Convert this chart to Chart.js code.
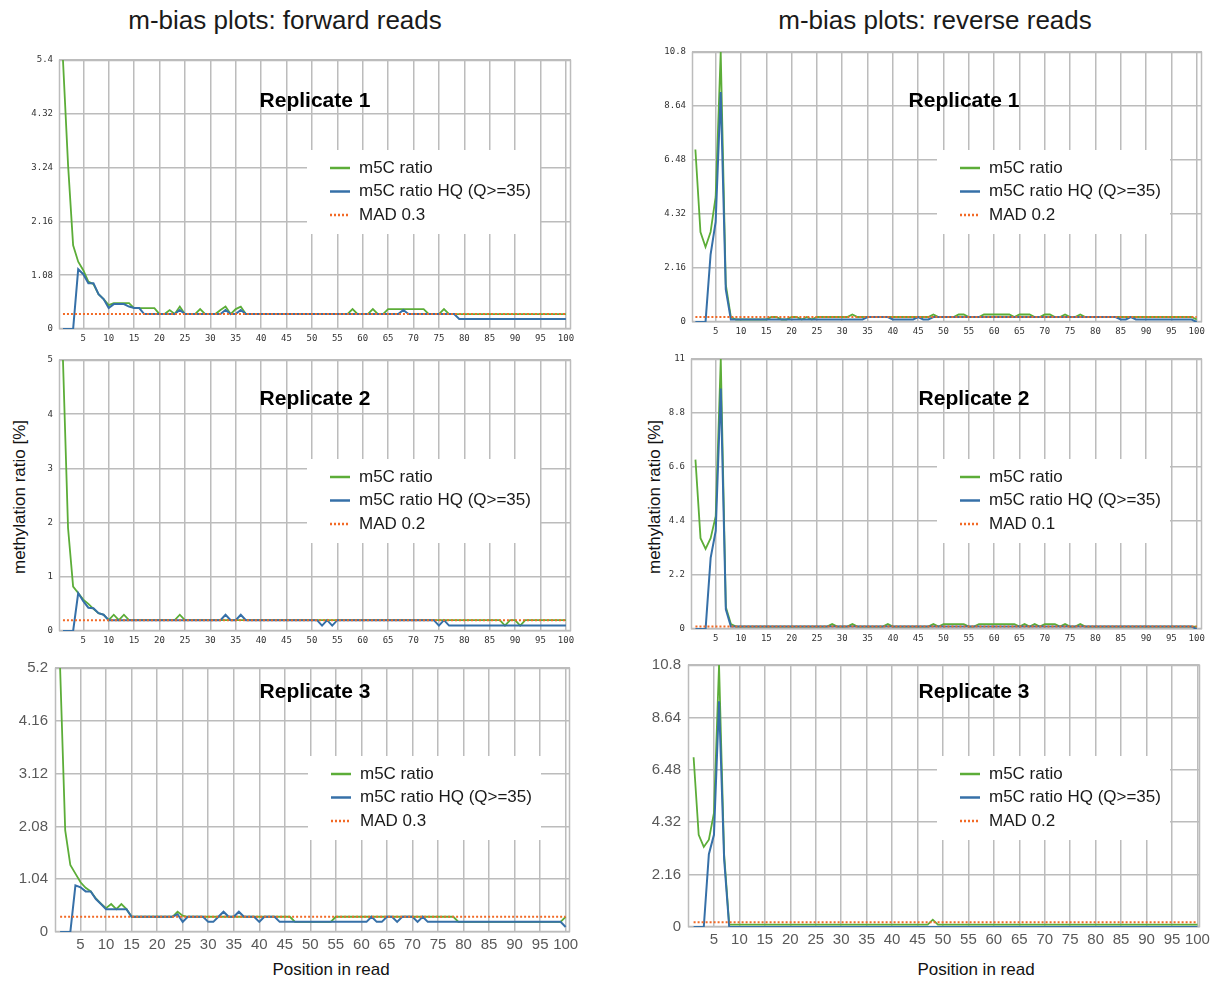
<!DOCTYPE html>
<html>
<head>
<meta charset="utf-8">
<title>m-bias plots</title>
<script src="https://cdn.jsdelivr.net/npm/chart.js@4.4.1/dist/chart.umd.min.js"></script>
<style>
  html, body { margin: 0; padding: 0; background: #fff; }
  #page { position: relative; width: 1219px; height: 985px; overflow: hidden; font-family: "Liberation Sans", Arial, sans-serif; }
  .heading { position: absolute; font-size: 26px; color: #1a1a1a; white-space: nowrap; transform: translate(-50%, -50%); }
  .axis-title { position: absolute; font-size: 17px; color: #111; white-space: nowrap; transform: translate(-50%, -50%); }
  .axis-title.vertical { transform: translate(-50%, -50%) rotate(-90deg); }
</style>
</head>
<body>
<div id="page">
  <div class="heading" style="left:285px; top:20px">m-bias plots: forward reads</div>
  <div class="heading" style="left:935px; top:20px">m-bias plots: reverse reads</div>
  <div class="axis-title vertical" style="left:20px; top:497px">methylation ratio [%]</div>
  <div class="axis-title vertical" style="left:655px; top:497px">methylation ratio [%]</div>
  <div class="axis-title" style="left:331px; top:970px">Position in read</div>
  <div class="axis-title" style="left:976px; top:970px">Position in read</div>
</div>
<script>
// methylation ratio per read position (1..100)
const fwdRep1Ratio = [
  5.4, 3.3, 1.68, 1.35, 1.18, 0.95, 0.9, 0.7, 0.6, 0.48,
  0.52, 0.52, 0.52, 0.52, 0.42, 0.42, 0.42, 0.42, 0.42, 0.3,
  0.3, 0.38, 0.3, 0.45, 0.3, 0.3, 0.3, 0.4, 0.3, 0.3,
  0.3, 0.38, 0.45, 0.3, 0.4, 0.45, 0.3, 0.3, 0.3, 0.3,
  0.3, 0.3, 0.3, 0.3, 0.3, 0.3, 0.3, 0.3, 0.3, 0.3,
  0.3, 0.3, 0.3, 0.3, 0.3, 0.3, 0.3, 0.4, 0.3, 0.3,
  0.3, 0.4, 0.3, 0.3, 0.4, 0.4, 0.4, 0.4, 0.4, 0.4,
  0.4, 0.4, 0.3, 0.3, 0.3, 0.4, 0.3, 0.3, 0.3, 0.3,
  0.3, 0.3, 0.3, 0.3, 0.3, 0.3, 0.3, 0.3, 0.3, 0.3,
  0.3, 0.3, 0.3, 0.3, 0.3, 0.3, 0.3, 0.3, 0.3, 0.3
];
const fwdRep1HQ = [
  0, 0, 0, 1.2, 1.1, 0.92, 0.92, 0.7, 0.6, 0.42,
  0.5, 0.5, 0.5, 0.45, 0.42, 0.42, 0.3, 0.3, 0.3, 0.3,
  0.3, 0.3, 0.3, 0.38, 0.3, 0.3, 0.3, 0.3, 0.3, 0.3,
  0.3, 0.3, 0.38, 0.3, 0.3, 0.38, 0.3, 0.3, 0.3, 0.3,
  0.3, 0.3, 0.3, 0.3, 0.3, 0.3, 0.3, 0.3, 0.3, 0.3,
  0.3, 0.3, 0.3, 0.3, 0.3, 0.3, 0.3, 0.3, 0.3, 0.3,
  0.3, 0.3, 0.3, 0.3, 0.3, 0.3, 0.3, 0.38, 0.3, 0.3,
  0.3, 0.3, 0.3, 0.3, 0.3, 0.3, 0.3, 0.3, 0.2, 0.2,
  0.2, 0.2, 0.2, 0.2, 0.2, 0.2, 0.2, 0.2, 0.2, 0.2,
  0.2, 0.2, 0.2, 0.2, 0.2, 0.2, 0.2, 0.2, 0.2, 0.2
];
const fwdRep2Ratio = [
  5.0, 1.9, 0.82, 0.7, 0.58, 0.5, 0.41, 0.33, 0.3, 0.2,
  0.3, 0.2, 0.3, 0.2, 0.2, 0.2, 0.2, 0.2, 0.2, 0.2,
  0.2, 0.2, 0.2, 0.3, 0.2, 0.2, 0.2, 0.2, 0.2, 0.2,
  0.2, 0.2, 0.2, 0.2, 0.2, 0.2, 0.2, 0.2, 0.2, 0.2,
  0.2, 0.2, 0.2, 0.2, 0.2, 0.2, 0.2, 0.2, 0.2, 0.2,
  0.2, 0.2, 0.2, 0.2, 0.2, 0.2, 0.2, 0.2, 0.2, 0.2,
  0.2, 0.2, 0.2, 0.2, 0.2, 0.2, 0.2, 0.2, 0.2, 0.2,
  0.2, 0.2, 0.2, 0.2, 0.2, 0.2, 0.2, 0.2, 0.2, 0.2,
  0.2, 0.2, 0.2, 0.2, 0.2, 0.2, 0.2, 0.1, 0.2, 0.2,
  0.1, 0.2, 0.2, 0.2, 0.2, 0.2, 0.2, 0.2, 0.2, 0.2
];
const fwdRep2HQ = [
  0, 0, 0, 0.7, 0.55, 0.43, 0.42, 0.33, 0.3, 0.2,
  0.2, 0.2, 0.2, 0.2, 0.2, 0.2, 0.2, 0.2, 0.2, 0.2,
  0.2, 0.2, 0.2, 0.2, 0.2, 0.2, 0.2, 0.2, 0.2, 0.2,
  0.2, 0.2, 0.3, 0.2, 0.2, 0.3, 0.2, 0.2, 0.2, 0.2,
  0.2, 0.2, 0.2, 0.2, 0.2, 0.2, 0.2, 0.2, 0.2, 0.2,
  0.2, 0.1, 0.2, 0.1, 0.2, 0.2, 0.2, 0.2, 0.2, 0.2,
  0.2, 0.2, 0.2, 0.2, 0.2, 0.2, 0.2, 0.2, 0.2, 0.2,
  0.2, 0.2, 0.2, 0.2, 0.1, 0.2, 0.1, 0.1, 0.1, 0.1,
  0.1, 0.1, 0.1, 0.1, 0.1, 0.1, 0.1, 0.1, 0.1, 0.1,
  0.1, 0.1, 0.1, 0.1, 0.1, 0.1, 0.1, 0.1, 0.1, 0.1
];
const fwdRep3Ratio = [
  5.2, 2.0, 1.32, 1.15, 0.98, 0.87, 0.8, 0.66, 0.56, 0.47,
  0.55, 0.45, 0.55, 0.45, 0.3, 0.3, 0.3, 0.3, 0.3, 0.3,
  0.3, 0.3, 0.3, 0.4, 0.32, 0.3, 0.3, 0.3, 0.3, 0.3,
  0.3, 0.3, 0.3, 0.3, 0.3, 0.3, 0.3, 0.3, 0.3, 0.3,
  0.3, 0.3, 0.3, 0.3, 0.3, 0.3, 0.2, 0.2, 0.2, 0.2,
  0.2, 0.2, 0.2, 0.2, 0.3, 0.3, 0.3, 0.3, 0.3, 0.3,
  0.3, 0.3, 0.3, 0.3, 0.3, 0.3, 0.3, 0.3, 0.3, 0.3,
  0.3, 0.3, 0.3, 0.3, 0.3, 0.3, 0.3, 0.3, 0.2, 0.2,
  0.2, 0.2, 0.2, 0.2, 0.2, 0.2, 0.2, 0.2, 0.2, 0.2,
  0.2, 0.2, 0.2, 0.2, 0.2, 0.2, 0.2, 0.2, 0.2, 0.3
];
const fwdRep3HQ = [
  0, 0, 0, 0.92, 0.88, 0.8, 0.8, 0.65, 0.55, 0.45,
  0.45, 0.45, 0.45, 0.45, 0.3, 0.3, 0.3, 0.3, 0.3, 0.3,
  0.3, 0.3, 0.3, 0.35, 0.2, 0.3, 0.3, 0.3, 0.3, 0.2,
  0.2, 0.3, 0.4, 0.3, 0.3, 0.4, 0.3, 0.3, 0.3, 0.2,
  0.3, 0.3, 0.3, 0.2, 0.2, 0.2, 0.2, 0.2, 0.2, 0.2,
  0.2, 0.2, 0.2, 0.2, 0.2, 0.2, 0.2, 0.2, 0.2, 0.2,
  0.2, 0.3, 0.2, 0.2, 0.3, 0.3, 0.2, 0.3, 0.3, 0.3,
  0.2, 0.3, 0.2, 0.2, 0.2, 0.2, 0.2, 0.2, 0.2, 0.2,
  0.2, 0.2, 0.2, 0.2, 0.2, 0.2, 0.2, 0.2, 0.2, 0.2,
  0.2, 0.2, 0.2, 0.2, 0.2, 0.2, 0.2, 0.2, 0.2, 0.1
];
const revRep1Ratio = [
  6.9, 3.6, 3.0, 3.6, 5.0, 10.8, 1.5, 0.2, 0.1, 0.1,
  0.1, 0.1, 0.1, 0.1, 0.1, 0.2, 0.2, 0.1, 0.1, 0.2,
  0.2, 0.1, 0.2, 0.1, 0.2, 0.2, 0.2, 0.2, 0.2, 0.2,
  0.2, 0.3, 0.2, 0.2, 0.2, 0.2, 0.2, 0.2, 0.2, 0.2,
  0.2, 0.2, 0.2, 0.2, 0.2, 0.2, 0.2, 0.3, 0.2, 0.2,
  0.2, 0.2, 0.3, 0.3, 0.2, 0.2, 0.2, 0.3, 0.3, 0.3,
  0.3, 0.3, 0.3, 0.2, 0.3, 0.3, 0.3, 0.2, 0.2, 0.3,
  0.3, 0.2, 0.2, 0.3, 0.2, 0.2, 0.3, 0.2, 0.2, 0.2,
  0.2, 0.2, 0.2, 0.2, 0.2, 0.2, 0.2, 0.2, 0.2, 0.2,
  0.2, 0.2, 0.2, 0.2, 0.2, 0.2, 0.2, 0.2, 0.2, 0.1
];
const revRep1HQ = [
  0, 0, 0, 2.7, 4.0, 9.2, 1.3, 0.1, 0.1, 0.1,
  0.1, 0.1, 0.1, 0.1, 0.1, 0.1, 0.1, 0.1, 0.1, 0.1,
  0.1, 0.1, 0.1, 0.1, 0.1, 0.1, 0.1, 0.1, 0.1, 0.1,
  0.1, 0.1, 0.1, 0.1, 0.2, 0.2, 0.2, 0.2, 0.2, 0.1,
  0.1, 0.1, 0.1, 0.1, 0.2, 0.1, 0.1, 0.2, 0.2, 0.2,
  0.2, 0.2, 0.2, 0.2, 0.2, 0.2, 0.2, 0.2, 0.2, 0.2,
  0.2, 0.2, 0.2, 0.2, 0.2, 0.2, 0.2, 0.2, 0.2, 0.2,
  0.2, 0.2, 0.2, 0.2, 0.2, 0.2, 0.2, 0.2, 0.2, 0.2,
  0.2, 0.2, 0.2, 0.2, 0.1, 0.1, 0.2, 0.1, 0.1, 0.1,
  0.1, 0.1, 0.1, 0.1, 0.1, 0.1, 0.1, 0.1, 0.1, 0
];
const revRep2Ratio = [
  6.9, 3.7, 3.26, 3.7, 4.6, 11, 0.9, 0.2, 0.1, 0.1,
  0.1, 0.1, 0.1, 0.1, 0.1, 0.1, 0.1, 0.1, 0.1, 0.1,
  0.1, 0.1, 0.1, 0.1, 0.1, 0.1, 0.1, 0.2, 0.1, 0.1,
  0.1, 0.2, 0.1, 0.1, 0.1, 0.1, 0.1, 0.1, 0.2, 0.1,
  0.1, 0.1, 0.1, 0.1, 0.1, 0.1, 0.1, 0.2, 0.1, 0.2,
  0.2, 0.2, 0.2, 0.2, 0.1, 0.1, 0.2, 0.2, 0.2, 0.2,
  0.2, 0.2, 0.2, 0.2, 0.1, 0.2, 0.1, 0.2, 0.1, 0.2,
  0.2, 0.2, 0.1, 0.2, 0.1, 0.1, 0.2, 0.1, 0.1, 0.1,
  0.1, 0.1, 0.1, 0.1, 0.1, 0.1, 0.1, 0.1, 0.1, 0.1,
  0.1, 0.1, 0.1, 0.1, 0.1, 0.1, 0.1, 0.1, 0.1, 0.1
];
const revRep2HQ = [
  0, 0, 0, 2.9, 4.0, 9.8, 0.8, 0.1, 0.1, 0.1,
  0.1, 0.1, 0.1, 0.1, 0.1, 0.1, 0.1, 0.1, 0.1, 0.1,
  0.1, 0.1, 0.1, 0.1, 0.1, 0.1, 0.1, 0.1, 0.1, 0.1,
  0.1, 0.1, 0.1, 0.1, 0.1, 0.1, 0.1, 0.1, 0.1, 0.1,
  0.1, 0.1, 0.1, 0.1, 0.1, 0.1, 0.1, 0.1, 0.1, 0.1,
  0.1, 0.1, 0.1, 0.1, 0.1, 0.1, 0.1, 0.1, 0.1, 0.1,
  0.1, 0.1, 0.1, 0.1, 0.1, 0.1, 0.1, 0.1, 0.1, 0.1,
  0.1, 0.1, 0.1, 0.1, 0.1, 0.1, 0.1, 0.1, 0.1, 0.1,
  0.1, 0.1, 0.1, 0.1, 0.1, 0.1, 0.1, 0.1, 0.1, 0.1,
  0.1, 0.1, 0.1, 0.1, 0.1, 0.1, 0.1, 0.1, 0.1, 0
];
const revRep3Ratio = [
  7.0, 3.8, 3.3, 3.6, 4.7, 10.8, 3.0, 0.1, 0.1, 0.1,
  0.1, 0.1, 0.1, 0.1, 0.1, 0.1, 0.1, 0.1, 0.1, 0.1,
  0.1, 0.1, 0.1, 0.1, 0.1, 0.1, 0.1, 0.1, 0.1, 0.1,
  0.1, 0.1, 0.1, 0.1, 0.1, 0.1, 0.1, 0.1, 0.1, 0.1,
  0.1, 0.1, 0.1, 0.1, 0.1, 0.1, 0.1, 0.3, 0.1, 0.1,
  0.1, 0.1, 0.1, 0.1, 0.1, 0.1, 0.1, 0.1, 0.1, 0.1,
  0.1, 0.1, 0.1, 0.1, 0.1, 0.1, 0.1, 0.1, 0.1, 0.1,
  0.1, 0.1, 0.1, 0.1, 0.1, 0.1, 0.1, 0.1, 0.1, 0.1,
  0.1, 0.1, 0.1, 0.1, 0.1, 0.1, 0.1, 0.1, 0.1, 0.1,
  0.1, 0.1, 0.1, 0.1, 0.1, 0.1, 0.1, 0.1, 0.1, 0.1
];
const revRep3HQ = [
  0, 0, 0, 3.0, 3.8, 9.3, 2.8, 0, 0, 0,
  0, 0, 0, 0, 0, 0, 0, 0, 0, 0,
  0, 0, 0, 0, 0, 0, 0, 0, 0, 0,
  0, 0, 0, 0, 0, 0, 0, 0, 0, 0,
  0, 0, 0, 0, 0, 0, 0, 0, 0, 0,
  0, 0, 0, 0, 0, 0, 0, 0, 0, 0,
  0, 0, 0, 0, 0, 0, 0, 0, 0, 0,
  0, 0, 0, 0, 0, 0, 0, 0, 0, 0,
  0, 0, 0, 0, 0, 0, 0, 0, 0, 0,
  0, 0, 0, 0, 0, 0, 0, 0, 0, 0
];

// MAD cut-off per replicate
const madForward = [0.3, 0.2, 0.3];
const madReverse = [0.2, 0.1, 0.2];

const positions = Array.from({ length: 100 }, (_, i) => i + 1);
const xTickValues = [5, 10, 15, 20, 25, 30, 35, 40, 45, 50, 55, 60, 65, 70, 75, 80, 85, 90, 95, 100];
const yTicksFwd1 = [0, 1.08, 2.16, 3.24, 4.32, 5.4];
const yTicksFwd2 = [0, 1, 2, 3, 4, 5];
const yTicksFwd3 = [0, 1.04, 2.08, 3.12, 4.16, 5.2];
const yTicksRev1 = [0, 2.16, 4.32, 6.48, 8.64, 10.8];
const yTicksRev2 = [0, 2.2, 4.4, 6.6, 8.8, 11];
const yTicksRev3 = [0, 2.16, 4.32, 6.48, 8.64, 10.8];

const GREEN = '#5cad38';
const BLUE = '#3670a8';
const ORANGE = '#f26a26';
const GRID = '#bcbcbc';
const SANS = "'Liberation Sans', Arial, sans-serif";

// box = plot area [left, top, right, bottom] in page pixels
const panels = [
  { box: [59, 60, 571, 329], xMin: 0.22, xMax: 101, big: false, title: 'Replicate 1', titleAt: [315, 101], legendAt: [307, 150],
    ratio: fwdRep1Ratio, hq: fwdRep1HQ, mad: madForward[0], yTicks: yTicksFwd1 },
  { box: [59, 360, 571, 631], xMin: 0.22, xMax: 101, big: false, title: 'Replicate 2', titleAt: [315, 399], legendAt: [307, 459],
    ratio: fwdRep2Ratio, hq: fwdRep2HQ, mad: madForward[1], yTicks: yTicksFwd2 },
  { box: [55, 664, 570, 932], xMin: 0, xMax: 100.85, big: true, title: 'Replicate 3', titleAt: [315, 692], legendAt: [308, 756],
    ratio: fwdRep3Ratio, hq: fwdRep3HQ, mad: madForward[2], yTicks: yTicksFwd3 },
  { box: [692, 52, 1202, 322], xMin: 0.33, xMax: 101.05, big: false, title: 'Replicate 1', titleAt: [964, 101], legendAt: [937, 150],
    ratio: revRep1Ratio, hq: revRep1HQ, mad: madReverse[0], yTicks: yTicksRev1 },
  { box: [691, 359, 1202, 629], xMin: 0.12, xMax: 101.05, big: false, title: 'Replicate 2', titleAt: [974, 399], legendAt: [937, 459],
    ratio: revRep2Ratio, hq: revRep2HQ, mad: madReverse[1], yTicks: yTicksRev2 },
  { box: [688, 661, 1200, 927], xMin: -0.1, xMax: 100.45, big: true, title: 'Replicate 3', titleAt: [974, 692], legendAt: [937, 756],
    ratio: revRep3Ratio, hq: revRep3HQ, mad: madReverse[2], yTicks: yTicksRev3 }
];

// frame around the plot area, replicate heading and the boxed legend
const panelDecor = {
  id: 'panelDecor',
  beforeDatasetsDraw(chart) {
    const { ctx, chartArea: a } = chart;
    ctx.save();
    ctx.strokeStyle = GRID;
    ctx.lineWidth = 1.5;
    ctx.strokeRect(Math.round(a.left) + 0.5, Math.round(a.top) + 0.5,
      Math.round(a.right - a.left) - 1, Math.round(a.bottom - a.top) - 1);
    ctx.restore();
  },
  afterDatasetsDraw(chart, args, opts) {
    const { ctx } = chart;
    ctx.save();
    ctx.font = 'bold 21px ' + SANS;
    ctx.fillStyle = '#000';
    ctx.textAlign = 'center';
    ctx.textBaseline = 'middle';
    ctx.fillText(opts.title, opts.titleX, opts.titleY);

    const lx = opts.legendX, ly = opts.legendY;
    ctx.fillStyle = '#fff';
    ctx.fillRect(lx, ly, 233, 84);
    ctx.font = '17px ' + SANS;
    ctx.textAlign = 'left';
    chart.data.datasets.forEach((ds, i) => {
      const y = ly + 18 + i * 23.5;
      ctx.strokeStyle = ds.borderColor;
      ctx.lineWidth = 2.5;
      ctx.setLineDash(ds.borderDash ? [2, 2] : []);
      ctx.beginPath();
      ctx.moveTo(lx + 23, y);
      ctx.lineTo(lx + 43, y);
      ctx.stroke();
      ctx.setLineDash([]);
      ctx.fillStyle = '#1a1a1a';
      ctx.fillText(ds.label, lx + 52, y);
    });
    ctx.restore();
  }
};

const page = document.getElementById('page');
const Y_W = 55, PAD_T = 12, PAD_R = 14;

function buildPanel(p) {
  const [l, t, r, b] = p.box;
  const xH = p.big ? 26 : 20;
  const w = r - l + Y_W + PAD_R;
  const h = b - t + PAD_T + xH;
  const left = l - Y_W, top = t - PAD_T;

  const canvas = document.createElement('canvas');
  canvas.width = w;
  canvas.height = h;
  canvas.style.cssText = `position:absolute;left:${left}px;top:${top}px;width:${w}px;height:${h}px`;
  page.appendChild(canvas);

  const tickFont = p.big
    ? { family: SANS, size: 15 }
    : { family: "'DejaVu Sans Mono', monospace", size: 9 };
  const tickColor = p.big ? '#595959' : '#333';

  new Chart(canvas.getContext('2d'), {
    type: 'line',
    data: {
      datasets: [
        { label: 'm5C ratio', data: positions.map((x, i) => ({ x, y: p.ratio[i] })),
          borderColor: GREEN, borderWidth: 1.8, order: 2 },
        { label: 'm5C ratio HQ (Q>=35)', data: positions.map((x, i) => ({ x, y: p.hq[i] })),
          borderColor: BLUE, borderWidth: 2, order: 1 },
        { label: 'MAD ' + p.mad, data: positions.map(x => ({ x, y: p.mad })),
          borderColor: ORANGE, borderWidth: 2, borderDash: [2, 2], order: 0 }
      ]
    },
    options: {
      responsive: false,
      animation: false,
      devicePixelRatio: 1,
      layout: { padding: { top: PAD_T, right: PAD_R, left: 0, bottom: 0 } },
      elements: { point: { radius: 0 }, line: { tension: 0, fill: false } },
      plugins: {
        legend: { display: false },
        tooltip: { enabled: false },
        panelDecor: {
          title: p.title,
          titleX: p.titleAt[0] - left, titleY: p.titleAt[1] - top,
          legendX: p.legendAt[0] - left, legendY: p.legendAt[1] - top
        }
      },
      scales: {
        x: {
          type: 'linear', min: p.xMin, max: p.xMax,
          afterBuildTicks: s => { s.ticks = xTickValues.map(v => ({ value: v })); },
          afterFit: s => { s.height = xH; },
          grid: { color: GRID, lineWidth: 1.5, drawTicks: false },
          border: { display: false },
          ticks: { font: tickFont, color: tickColor, padding: 4, maxRotation: 0, autoSkip: false }
        },
        y: {
          type: 'linear', min: 0, max: p.yTicks[p.yTicks.length - 1],
          afterBuildTicks: s => { s.ticks = p.yTicks.map(v => ({ value: v })); },
          afterFit: s => { s.width = Y_W; },
          grid: { color: GRID, lineWidth: 1.5, drawTicks: false },
          border: { display: false },
          ticks: { font: tickFont, color: tickColor, padding: p.big ? 7 : 6, callback: v => String(v) }
        }
      }
    },
    plugins: [panelDecor]
  });
}

panels.forEach(buildPanel);
</script>
</body>
</html>
